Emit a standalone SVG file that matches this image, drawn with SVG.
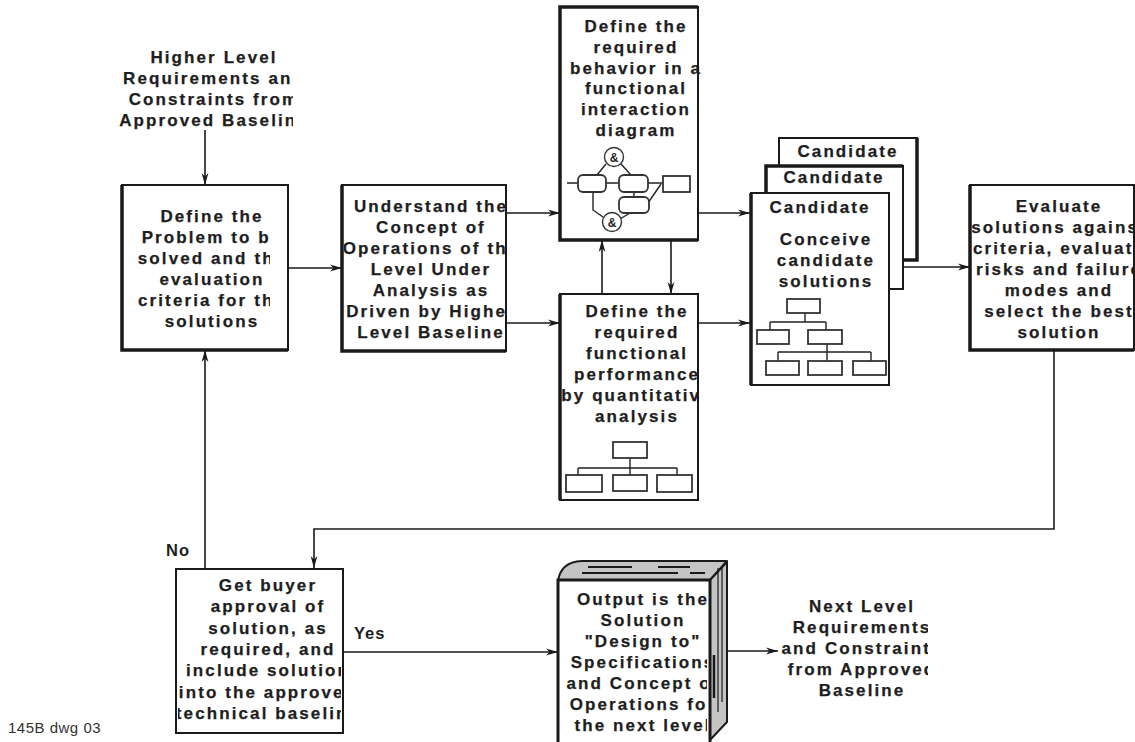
<svg xmlns="http://www.w3.org/2000/svg" width="1135" height="742" viewBox="0 0 1135 742">
  <style>
    .t { font-family: "Liberation Sans", Arial, Helvetica, sans-serif; font-weight: bold; font-size: 17px; letter-spacing: 2.1px; fill: #1e1e1e; stroke: #1e1e1e; stroke-width: 0.25; text-anchor: middle; }
    .lbl { font-family: "Liberation Sans", Arial, Helvetica, sans-serif; font-weight: bold; font-size: 16.5px; letter-spacing: 1px; fill: #1e1e1e; }
    .note { font-family: "Liberation Sans", Arial, Helvetica, sans-serif; font-size: 15px; letter-spacing: 0.5px; fill: #333; }
    .box { fill: #fff; stroke: #1a1a1a; stroke-width: 2; }
    .heavy { fill: none; stroke: #1a1a1a; stroke-width: 3.5; }
    .conn { fill: none; stroke: #1a1a1a; stroke-width: 1.6; marker-end: url(#arr); }
    .mini { fill: #fff; stroke: #333; stroke-width: 1.8; }
    .wire { fill: none; stroke: #222; stroke-width: 1.4; }
    .amp { font-family: "Liberation Sans", Arial, sans-serif; font-weight: bold; font-size: 12px; fill: #222; text-anchor: middle; }
    .page { fill: #c4c4c4; stroke: #1a1a1a; stroke-width: 2; stroke-linejoin: round; }
  </style>
  <defs>
    <marker id="arr" viewBox="0 0 12 8" markerWidth="12" markerHeight="8" refX="12" refY="4" orient="auto" markerUnits="userSpaceOnUse">
      <path d="M0,0.6 L12,4 L0,7.4 L3.5,4 Z" fill="#1a1a1a"/>
    </marker>
    <clipPath id="cHead"><rect x="100" y="40" width="193" height="100"/></clipPath>
    <clipPath id="cProb"><rect x="124" y="190" width="146" height="155"/></clipPath>
    <clipPath id="cOps"><rect x="344" y="190" width="162" height="155"/></clipPath>
    <clipPath id="cBeh"><rect x="562" y="10" width="141" height="135"/></clipPath>
    <clipPath id="cPerf"><rect x="562" y="297" width="135" height="135"/></clipPath>
    <clipPath id="cEval"><rect x="972" y="188" width="163" height="160"/></clipPath>
    <clipPath id="cAppr"><rect x="178" y="572" width="163" height="158"/></clipPath>
    <clipPath id="cBook"><rect x="560" y="583" width="147" height="159"/></clipPath>
    <clipPath id="cNext"><rect x="780" y="590" width="148" height="115"/></clipPath>
  </defs>

  <rect width="1135" height="742" fill="#fff"/>

  <!-- Connectors -->
  <g id="connectors">
    <path class="conn" d="M205,130 V185"/>
    <path class="conn" d="M288,268 H342"/>
    <path class="conn" d="M506,213 H560"/>
    <path class="conn" d="M506,323 H560"/>
    <path class="conn" d="M602,294 V240"/>
    <path class="conn" d="M671,240 V294"/>
    <path class="conn" d="M698,213 H750"/>
    <path class="conn" d="M698,323 H750"/>
    <path class="conn" d="M903,267 H970"/>
    <path class="conn" d="M1054,350 V529 H314 V568"/>
    <path class="conn" d="M205,568 V350"/>
    <path class="conn" d="M343,652 H558"/>
    <path class="conn" d="M727,651 H778"/>
    <text class="lbl" x="166" y="556">No</text>
    <text class="lbl" x="354" y="639">Yes</text>
  </g>

  <!-- Incoming requirements -->
  <g id="higher-level" clip-path="url(#cHead)">
    <text class="t" x="214" y="63">Higher Level</text>
    <text class="t" x="214" y="84">Requirements and</text>
    <text class="t" x="214" y="105">Constraints from</text>
    <text class="t" x="214" y="126">Approved Baseline</text>
  </g>

  <!-- Define the problem -->
  <g id="define-problem">
    <rect class="box" x="122" y="185" width="166" height="165"/>
    <path class="heavy" d="M122,185 V350 H288"/>
    <g clip-path="url(#cProb)">
      <text class="t" x="212" y="222">Define the</text>
      <text class="t" x="212" y="243">Problem to be</text>
      <text class="t" x="212" y="264">solved and the</text>
      <text class="t" x="212" y="285">evaluation</text>
      <text class="t" x="212" y="306">criteria for the</text>
      <text class="t" x="212" y="327">solutions</text>
    </g>
  </g>

  <!-- Concept of operations -->
  <g id="concept-ops">
    <rect class="box" x="342" y="185" width="164" height="166"/>
    <path class="heavy" d="M342,185 V351 H506"/>
    <g clip-path="url(#cOps)">
      <text class="t" x="431" y="212">Understand the</text>
      <text class="t" x="431" y="233">Concept of</text>
      <text class="t" x="431" y="254">Operations of the</text>
      <text class="t" x="431" y="275">Level Under</text>
      <text class="t" x="431" y="296">Analysis as</text>
      <text class="t" x="431" y="317">Driven by Higher</text>
      <text class="t" x="431" y="338">Level Baseline</text>
    </g>
  </g>

  <!-- Functional interaction behaviour -->
  <g id="behavior">
    <rect class="box" x="560" y="7" width="138" height="233" stroke-width="2.5"/>
    <path class="heavy" d="M698,7 H560 V240 H698"/>
    <g clip-path="url(#cBeh)">
      <text class="t" x="636" y="32">Define the</text>
      <text class="t" x="636" y="53">required</text>
      <text class="t" x="636" y="74">behavior in a</text>
      <text class="t" x="636" y="94">functional</text>
      <text class="t" x="636" y="115">interaction</text>
      <text class="t" x="636" y="136">diagram</text>
    </g>
    <!-- small interaction sketch -->
    <path class="wire" d="M567,183 H578 M606,183 H619 M648,183 H663"/>
    <path class="wire" d="M606,164 L597,175 M621,164 L631,175"/>
    <path class="wire" d="M634,192 V197 M661,184 L648,203"/>
    <path class="wire" d="M593,192 V210 L603,217 M620,219 L630,213"/>
    <rect class="mini" x="578" y="175" width="28" height="17" rx="5"/>
    <rect class="mini" x="619" y="175" width="29" height="17" rx="5"/>
    <rect class="mini" x="663" y="176" width="27" height="16"/>
    <rect class="mini" x="619" y="197" width="30" height="16" rx="5"/>
    <circle cx="614" cy="157" r="9.5" fill="#fff" stroke="#333" stroke-width="1.4"/>
    <circle cx="612" cy="222" r="9.5" fill="#fff" stroke="#333" stroke-width="1.4"/>
    <text class="amp" x="614" y="161.5">&amp;</text>
    <text class="amp" x="612" y="226.5">&amp;</text>
  </g>

  <!-- Functional performance -->
  <g id="performance">
    <rect class="box" x="560" y="294" width="138" height="206"/>
    <path class="heavy" d="M560,294 V500"/>
    <g clip-path="url(#cPerf)">
      <text class="t" x="637" y="317">Define the</text>
      <text class="t" x="637" y="338">required</text>
      <text class="t" x="637" y="359">functional</text>
      <text class="t" x="637" y="380">performance</text>
      <text class="t" x="637" y="401">by quantitative</text>
      <text class="t" x="637" y="422">analysis</text>
    </g>
    <path class="wire" d="M630,458 V468 M578,468 H677 M578,468 V475 M630,468 V475 M677,468 V475"/>
    <rect class="mini" x="613" y="442" width="34" height="16"/>
    <rect class="mini" x="566" y="475" width="36" height="17"/>
    <rect class="mini" x="613" y="475" width="34" height="16"/>
    <rect class="mini" x="657" y="475" width="35" height="17"/>
  </g>

  <!-- Candidate solutions stack -->
  <g id="candidates">
    <rect class="box" x="779" y="138" width="138" height="122"/>
    <path class="heavy" d="M917,138 V260 H779"/>
    <text class="t" x="848" y="157">Candidate</text>
    <rect class="box" x="766" y="166" width="137" height="123"/>
    <path class="heavy" d="M766,289 V166 H903"/>
    <text class="t" x="834" y="183">Candidate</text>
    <rect class="box" x="751" y="193" width="138" height="192"/>
    <path class="heavy" d="M751,193 V385" stroke-width="3"/>
    <text class="t" x="820" y="213">Candidate</text>
    <text class="t" x="826" y="245">Conceive</text>
    <text class="t" x="826" y="266">candidate</text>
    <text class="t" x="826" y="287">solutions</text>
    <path class="wire" d="M805,313 V322 M770,322 H826 M770,322 V330 M826,322 V330"/>
    <path class="wire" d="M827,344 V352 M778,352 H871 M778,352 V361 M827,352 V361 M871,352 V361"/>
    <rect class="mini" x="787" y="299" width="33" height="14"/>
    <rect class="mini" x="757" y="330" width="32" height="14"/>
    <rect class="mini" x="808" y="330" width="34" height="14"/>
    <rect class="mini" x="766" y="361" width="33" height="14"/>
    <rect class="mini" x="808" y="361" width="34" height="14"/>
    <rect class="mini" x="853" y="361" width="33" height="14"/>
  </g>

  <!-- Evaluate and select -->
  <g id="evaluate">
    <rect class="box" x="970" y="185" width="164" height="165"/>
    <path class="heavy" d="M970,185 V350 H1134"/>
    <g clip-path="url(#cEval)">
      <text class="t" x="1059" y="212">Evaluate</text>
      <text class="t" x="1059" y="233">solutions against</text>
      <text class="t" x="1059" y="254">criteria, evaluate</text>
      <text class="t" x="1059" y="275">risks and failure</text>
      <text class="t" x="1059" y="296">modes and</text>
      <text class="t" x="1059" y="317">select the best</text>
      <text class="t" x="1059" y="338">solution</text>
    </g>
  </g>

  <!-- Buyer approval -->
  <g id="approval">
    <rect class="box" x="176" y="569" width="167" height="164" stroke-width="3"/>
    <g clip-path="url(#cAppr)">
      <text class="t" x="268" y="591">Get buyer</text>
      <text class="t" x="268" y="612">approval of</text>
      <text class="t" x="268" y="634">solution, as</text>
      <text class="t" x="268" y="655">required, and</text>
      <text class="t" x="268" y="676">include solution</text>
      <text class="t" x="268" y="698">into the approved</text>
      <text class="t" x="268" y="719">technical baseline</text>
    </g>
  </g>

  <!-- Output specification book -->
  <g id="output-book">
    <path class="page" d="M558,582 Q560,562 582,561 H727 L710,580 H558 Z"/>
    <path class="page" d="M710,580 L727,562 V722 L710,740 Z"/>
    <path d="M588,567 H632 M658,567 H690 M582,573 H678 M690,573 H705" stroke="#1a1a1a" stroke-width="2" fill="none"/>
    <path d="M718,568 V712 M722,566 V702" stroke="#1a1a1a" stroke-width="1.2" fill="none"/>
    <path d="M714,655 V698" stroke="#1a1a1a" stroke-width="2.5" fill="none"/>
    <rect x="558" y="580" width="152" height="170" fill="#fff" stroke="#1a1a1a" stroke-width="3"/>
    <g clip-path="url(#cBook)">
      <text class="t" x="643" y="605">Output is the</text>
      <text class="t" x="643" y="626">Solution</text>
      <text class="t" x="643" y="647">"Design to"</text>
      <text class="t" x="643" y="668">Specifications</text>
      <text class="t" x="643" y="689">and Concept of</text>
      <text class="t" x="643" y="710">Operations for</text>
      <text class="t" x="643" y="731">the next level</text>
    </g>
  </g>

  <!-- Outgoing requirements -->
  <g id="next-level" clip-path="url(#cNext)">
    <text class="t" x="862" y="612">Next Level</text>
    <text class="t" x="862" y="633">Requirements</text>
    <text class="t" x="862" y="654">and Constraints</text>
    <text class="t" x="862" y="675">from Approved</text>
    <text class="t" x="862" y="696">Baseline</text>
  </g>

  <text class="note" x="8" y="733">145B dwg 03</text>
</svg>
